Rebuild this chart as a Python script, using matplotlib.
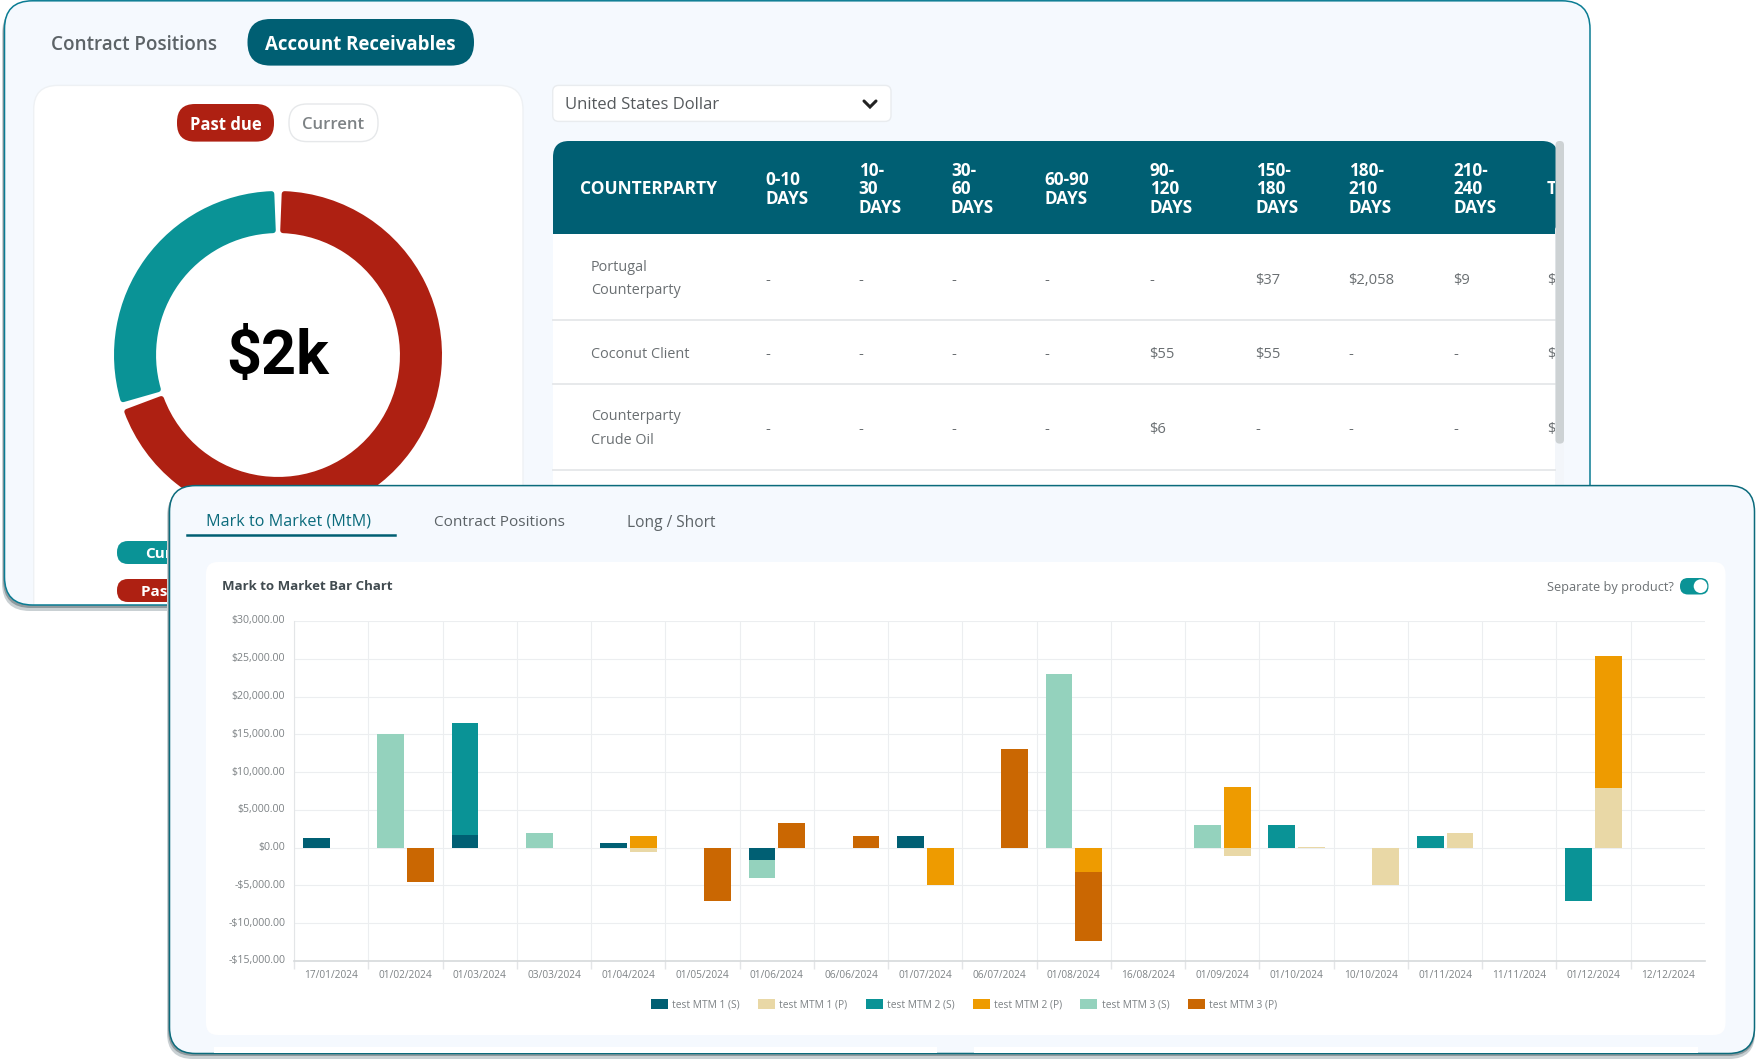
import matplotlib
matplotlib.use("Agg")
import matplotlib.pyplot as plt
from matplotlib.patches import FancyBboxPatch, Rectangle, Circle

W, H = 1759, 1062

# ---------- chart data ----------
categories = ["17/01/2024", "01/02/2024", "01/03/2024", "03/03/2024", "01/04/2024",
              "01/05/2024", "01/06/2024", "06/06/2024", "01/07/2024", "06/07/2024",
              "01/08/2024", "16/08/2024", "01/09/2024", "01/10/2024", "10/10/2024",
              "01/11/2024", "11/11/2024", "01/12/2024", "12/12/2024"]
mtm1_s = [1300, 0, 1700, 0, 600, 0, -1600, 0, 1600, 0, 0, 0, 0, 0, 0, 0, 0, 0, 0]
mtm1_p = [0, 0, 0, 0, -600, 0, 0, 0, 0, 0, 0, 0, -1100, 100, -5000, 2000, 0, 7900, 0]
mtm2_s = [0, 0, 14800, 0, 0, 0, 0, 0, 0, 0, 0, 0, 0, 3000, 0, 1500, 0, -7000, 0]
mtm2_p = [0, 0, 0, 0, 1500, 0, 0, 0, -5000, 0, -3200, 0, 8000, 0, 0, 0, 0, 17500, 0]
mtm3_s = [0, 15000, 0, 2000, 0, 0, -2400, 0, 0, 0, 23000, 0, 3000, 0, 0, 0, 0, 0, 0]
mtm3_p = [0, -4500, 0, 0, 0, -7000, 3200, 1600, 0, 13000, -9200, 0, 0, 0, 0, 0, 0, 0, 0]
series_labels = ["test MTM 1 (S)", "test MTM 1 (P)", "test MTM 2 (S)",
                 "test MTM 2 (P)", "test MTM 3 (S)", "test MTM 3 (P)"]
y_ticks = [-15000, -10000, -5000, 0, 5000, 10000, 15000, 20000, 25000, 30000]

# ---------- donut data ----------
donut_labels = ["Past due", "Current"]
donut_values = [2220, 955]

# ---------- table data ----------
table_headers = [["0-10", "DAYS"], ["10-", "30", "DAYS"], ["30-", "60", "DAYS"],
                 ["60-90", "DAYS"], ["90-", "120", "DAYS"], ["150-", "180", "DAYS"],
                 ["180-", "210", "DAYS"], ["210-", "240", "DAYS"], ["TOTAL"]]
table_names = [["Portugal", "Counterparty"], ["Coconut Client"], ["Counterparty", "Crude Oil"]]
table_rows = [["-", "-", "-", "-", "-", "$37", "$2,058", "$9", "$2,104"],
              ["-", "-", "-", "-", "$55", "$55", "-", "-", "$110"],
              ["-", "-", "-", "-", "$6", "-", "-", "-", "$6"]]

# ---------- colours ----------
C_DARK, C_SAND, C_TEAL, C_AMBER, C_MINT, C_RUST = "#005F73", "#E9D8A6", "#0A9396", "#EE9B00", "#94D2BD", "#CA6702"
C_RED = "#AE2012"
C_PANEL = "#F5F9FE"
FONT = "Open Sans"
plt.rcParams["font.family"] = [FONT, "DejaVu Sans"]

fig = plt.figure(figsize=(W / 100, H / 100), dpi=100, facecolor="white")


def px_axes(z):
    ax = fig.add_axes([0, 0, 1, 1], zorder=z)
    ax.set_xlim(0, W)
    ax.set_ylim(H, 0)
    ax.axis("off")
    ax.patch.set_visible(False)
    return ax


def rbox(ax, x0, y0, x1, y1, r, fc, ec="none", lw=0, z=1):
    p = FancyBboxPatch((x0, y0), x1 - x0, y1 - y0, boxstyle=f"round,pad=0,rounding_size={r}",
                       fc=fc, ec=ec, lw=lw, zorder=z)
    ax.add_patch(p)
    return p


def rect(ax, x0, y0, x1, y1, fc, z=1):
    p = Rectangle((x0, y0), x1 - x0, y1 - y0, fc=fc, ec="none", zorder=z)
    ax.add_patch(p)
    return p


# ---------- back panel ----------
a1 = px_axes(0)
rbox(a1, 2, 6, 1590, 611, 28, "#c9d0d3", z=0)
rbox(a1, 3, 4, 1590, 608, 28, "#8f9a9e", z=0.5)
panel1 = rbox(a1, 4.5, 0.8, 1590, 605, 28, C_PANEL, z=0.8)
rbox(a1, 4.5, 0.8, 1590, 605, 28, "none", ec="#0A7C93", lw=1.1, z=6)
a1.text(51, 45, "Contract Positions", fontsize=13.6, weight=600, color="#5c6367", va="center", zorder=3)
rbox(a1, 247.5, 19, 474, 65.6, 23, C_DARK, z=2)
a1.text(360.7, 45, "Account Receivables", fontsize=13.4, weight="bold", color="white", ha="center", va="center", zorder=3)

# left card
card = rbox(a1, 33.7, 85.4, 523, 640, 24, "white", ec="#eef1f4", lw=1)
card.set_clip_path(panel1)
rbox(a1, 177, 104, 274, 141.6, 18, C_RED, z=2)
a1.text(225.5, 125, "Past due", fontsize=12, weight="bold", color="white", ha="center", va="center", zorder=3)
rbox(a1, 289, 104, 378, 141.6, 18, "white", ec="#e6e8ea", lw=1, z=2)
a1.text(333.5, 125, "Current", fontsize=12, weight=600, color="#7d8285", ha="center", va="center", zorder=3)
rbox(a1, 117, 541, 300, 564, 11, C_TEAL, z=2)
a1.text(145, 554, donut_labels[1], fontsize=11, weight="bold", color="white", va="center", zorder=3)
rbox(a1, 117, 579, 300, 602, 11, C_RED, z=2)
a1.text(141, 592, donut_labels[0], fontsize=11, weight="bold", color="white", va="center", zorder=3)

# currency dropdown
rbox(a1, 552.7, 85.4, 891, 121.4, 6, "white", ec="#e9ecef", lw=1)
a1.text(565, 105, "United States Dollar", fontsize=12, color="#55595c", va="center", zorder=3)
a1.plot([864, 870, 876], [101, 107, 101], color="#222", lw=2.2, solid_capstyle="round", solid_joinstyle="miter", zorder=3)

# table
col_x = [765.4, 858.6, 951, 1044.2, 1149.6, 1255.6, 1348.6, 1453.4, 1547]
clip = Rectangle((553, 141), 1002, 345, transform=a1.transData)
rect(a1, 553, 200, 1555, 486, "white")
rbox(a1, 553, 141, 1558, 234, 16, C_DARK, z=2)
rect(a1, 553, 175, 1555, 234, C_DARK, z=2)
rect(a1, 1555.5, 234, 1564, 486, "#f3f6fa", z=2)
rbox(a1, 1555.5, 141, 1564, 443.6, 4, "#cdd2d4", z=3)
for yy in (320, 384.3, 469.7):
    a1.plot([553, 1555], [yy, yy], color="#e7e9eb", lw=1.4, zorder=2)
a1.text(580, 189.4, "COUNTERPARTY", fontsize=12.5, weight="bold", color="white", va="center", zorder=4)
line_ys = {1: [189.4], 2: [180, 199], 3: [171, 189.4, 208.4]}
for x, head in zip(col_x, table_headers):
    for yy, line in zip(line_ys[len(head)], head):
        t = a1.text(x, yy, line, fontsize=12.3, weight="bold", color="white", va="center", zorder=4)
        t.set_clip_path(clip)
        t.set_clip_on(True)
name_ys = [[267.7, 291], [354], [417, 440.5]]
val_ys = [280.5, 354.5, 429.5]
for names, ys in zip(table_names, name_ys):
    for yy, line in zip(ys, names):
        a1.text(591, yy, line, fontsize=10.4, color="#6a6f72", va="center", zorder=4)
for row, yy in zip(table_rows, val_ys):
    for x, v in zip(col_x, row):
        t = a1.text(x, yy, v, fontsize=10.6, color="#6a6f72", va="center", zorder=4)
        t.set_clip_path(clip)
        t.set_clip_on(True)

# ---------- donut ----------
R = 164
ax_d = fig.add_axes([(278 - R * 1.25) / W, 1 - (355 + R * 1.25) / H, R * 2.5 / W, R * 2.5 / H], zorder=1)
wedges, _ = ax_d.pie(donut_values, colors=[C_RED, C_TEAL], startangle=90, counterclock=False,
                     radius=0.983, wedgeprops=dict(width=0.2225))
for w in wedges:
    w.set_theta1(w.theta1 + 2.3)
    w.set_theta2(w.theta2 - 2.3)
    w.set_edgecolor(w.get_facecolor())
    w.set_linewidth(4)
    w.set_joinstyle("round")
ax_d.text(0, -0.015, "$2k", fontsize=44, weight="bold", family="Roboto", color="black", ha="center", va="center")

# ---------- front panel ----------
a2 = px_axes(2)
rbox(a2, 167, 490, 1755, 1059, 26, "#c9d0d3", z=0)
rbox(a2, 168, 488, 1755, 1056, 26, "#8f9a9e", z=0.5)
rbox(a2, 169.5, 485.6, 1754.5, 1053.5, 26, C_PANEL, ec="#0B6B7C", lw=1.1)
a2.text(206, 522, "Mark to Market (MtM)", fontsize=11.6, color="#0B6B7C", va="center", zorder=3)
a2.plot([187.5, 395], [535, 535], color=C_DARK, lw=1.8, zorder=3)
a2.text(434, 522, "Contract Positions", fontsize=11.1, color="#5c6367", va="center", zorder=3)
a2.text(627, 523, "Long / Short", fontsize=11.2, color="#5c6367", va="center", zorder=3)
rbox(a2, 206, 562, 1725.5, 1035, 12, "white")
rect(a2, 213.6, 1047, 937, 1052.5, "white")
rect(a2, 974, 1047, 1698, 1052.5, "white")
a2.text(222, 587, "Mark to Market Bar Chart", fontsize=9.5, weight="bold", color="#414b50", va="center", zorder=3)
a2.text(1547, 587, "Separate by product?", fontsize=9.2, color="#6c7174", va="center", zorder=3)
rbox(a2, 1680, 578, 1708.5, 594.5, 8, C_TEAL, z=3)
a2.add_patch(Circle((1700.5, 586.2), 6.8, fc="white", ec="none", zorder=4))

# ---------- bar chart ----------
L, RGT, TOP, BOT = 294.2, 1705, 621, 961
ax = fig.add_axes([L / W, 1 - BOT / H, (RGT - L) / W, (BOT - TOP) / H], zorder=3)
ax.patch.set_visible(False)
positions = range(len(categories))
series = [(mtm1_s, C_DARK, -0.2), (mtm1_p, C_SAND, 0.2), (mtm2_s, C_TEAL, -0.2),
          (mtm2_p, C_AMBER, 0.2), (mtm3_s, C_MINT, -0.2), (mtm3_p, C_RUST, 0.2)]
stack_pos = {-0.2: [0] * len(categories), 0.2: [0] * len(categories)}
stack_neg = {-0.2: [0] * len(categories), 0.2: [0] * len(categories)}
for (vals, col, off), lab in zip(series, series_labels):
    bottoms = [stack_pos[off][i] if v >= 0 else stack_neg[off][i] for i, v in enumerate(vals)]
    ax.bar([p + off for p in positions], vals, width=0.362, bottom=bottoms, color=col, label=lab, zorder=3)
    for i, v in enumerate(vals):
        if v >= 0:
            stack_pos[off][i] += v
        else:
            stack_neg[off][i] += v
ax.set_xlim(-0.5, len(categories) - 0.5)
ax.set_ylim(-15000, 30000)
ax.set_yticks(y_ticks)
ax.set_yticklabels([("-" if v < 0 else "") + f"${abs(v):,.2f}" for v in y_ticks])
ax.set_xticks(list(positions))
ax.set_xticklabels(categories)
ax.set_xticks([p - 0.5 for p in positions], minor=True)
ax.grid(True, which="minor", axis="x", color="#eceef0", lw=0.8, zorder=0)
ax.grid(True, which="major", axis="y", color="#eceef0", lw=0.8, zorder=0)
ax.tick_params(axis="x", which="major", length=0, pad=6.5, labelsize=7.3, labelcolor="#7d8285")
ax.tick_params(axis="x", which="minor", length=6, color="#e3e5e7", width=1)
ax.tick_params(axis="y", length=0, pad=6.5, labelsize=7.6, labelcolor="#7d8285")
for lab in ax.get_yticklabels():
    lab.set_verticalalignment("center")
for s in ("top", "right"):
    ax.spines[s].set_visible(False)
ax.spines["left"].set_color("#e3e5e7")
ax.spines["bottom"].set_color("#d6d9db")
ax.spines["bottom"].set_linewidth(1.2)
leg = ax.legend(loc="center", bbox_to_anchor=((964 - L) / (RGT - L), (BOT - 1005) / (BOT - TOP)),
                ncol=6, frameon=False, fontsize=7.4, handlelength=1.65, handleheight=1.1,
                handletextpad=0.45, columnspacing=1.75, labelcolor="#7d8285", borderpad=0)

fig.savefig("out.png", dpi=100, facecolor="white")
